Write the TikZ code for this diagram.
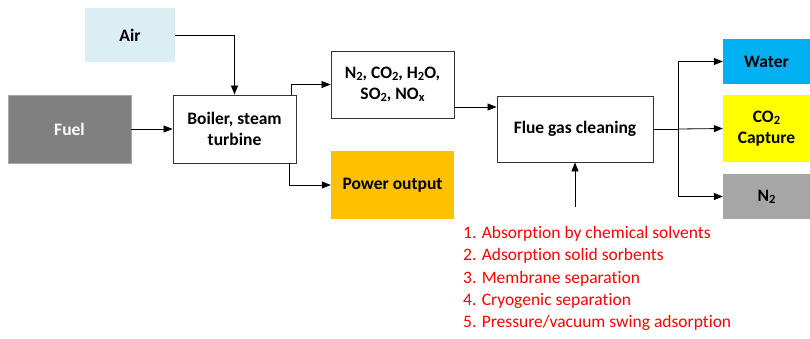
\documentclass[tikz,border=0pt]{standalone}
\usepackage{fontspec}
\setmainfont{Carlito}[Ligatures={NoCommon}]
\usetikzlibrary{arrows.meta}
\newcommand{\sub}[1]{\raisebox{-0.2ex}{\fontsize{12.5}{12.5}\selectfont #1}}
\begin{document}
\begin{tikzpicture}[x=1pt,y=-1pt,
  box/.style={draw=black!80,line width=0.9pt,fill=white,font=\fontsize{17.5}{21}\selectfont\bfseries,align=center,inner sep=0pt},
  cbox/.style={font=\fontsize{17.5}{21}\selectfont\bfseries,align=center,inner sep=0pt},
  arr/.style={-{Triangle[length=9pt,width=7pt]},line width=0.8pt},
  ln/.style={line width=0.8pt}]
\useasboundingbox (0,0) rectangle (810,338);
\node[cbox,fill={rgb,255:red,218;green,238;blue,243},minimum width=90pt,minimum height=54pt] (air) at (130,35) {Air};
\node[cbox,fill={rgb,255:red,128;green,128;blue,128},draw={rgb,255:red,170;green,170;blue,170},line width=0.8pt,text=white,minimum width=123pt,minimum height=68pt] (fuel) at (69.5,129) {Fuel};
\node[box,minimum width=123pt,minimum height=68pt] (boil) at (234.5,129) {Boiler, steam\\turbine};
\node[box,minimum width=123pt,minimum height=67pt] (gas) at (392.5,84.5) {N\sub{2}, CO\sub{2}, H\sub{2}O,\\SO\sub{2}, NO\sub{x}};
\node[cbox,fill={rgb,255:red,255;green,192;blue,0},minimum width=123pt,minimum height=68pt] (pow) at (392.5,185) {Power output};
\node[box,minimum width=156pt,minimum height=66pt] (flue) at (575,129) {Flue gas cleaning};
\node[cbox,fill={rgb,255:red,0;green,176;blue,240},minimum width=87pt,minimum height=45pt] (water) at (766.5,61.5) {Water};
\node[cbox,fill={rgb,255:red,255;green,255;blue,0},minimum width=87pt,minimum height=67pt] (co2) at (766.5,128.5) {CO\sub{2}\\Capture};
\node[cbox,fill={rgb,255:red,166;green,166;blue,166},minimum width=87pt,minimum height=45pt] (n2) at (766.5,196.5) {N\sub{2}};
\node[anchor=north west,text=red,align=left,inner sep=0pt,font=\fontsize{17.5}{22.4}\selectfont] (list) at (463,226) {1. Absorption by chemical solvents\\2. Adsorption solid sorbents\\3. Membrane separation\\4. Cryogenic separation\\5. Pressure/vacuum swing adsorption};
\coordinate (ls) at (575,207);
\coordinate (split) at (678,129);
\coordinate (gx) at ([yshift=-22.5pt]gas.east);
\draw[arr] (air.east) -| (boil.north);
\draw[arr] (fuel.east) -- (boil.west);
\draw[arr] ([xshift=-5pt]boil.north east) |- (gas.west);
\draw[arr] ([xshift=-7pt]boil.south east) |- (pow.west);
\draw[arr] (gx) -- (gx -| flue.west);
\draw[arr] (ls) -- (flue.south);
\draw[ln] (flue.east) -- (split);
\draw[arr] (split) |- (water.west);
\draw[arr] (split) -- (co2.west);
\draw[arr] (split) |- (n2.west);
\end{tikzpicture}
\end{document}
